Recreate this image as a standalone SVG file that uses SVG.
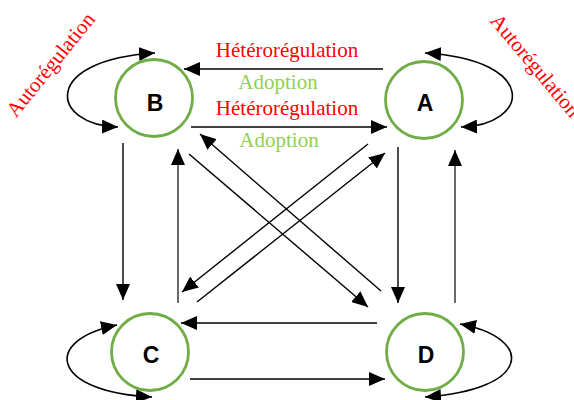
<svg xmlns="http://www.w3.org/2000/svg" width="574" height="400" viewBox="0 0 574 400">
<style>
.node{fill:#fff;stroke:#70AD47;stroke-width:2.8}
.lbl{font-family:"Liberation Sans",Arial,sans-serif;font-weight:bold;font-size:23px;text-anchor:middle;fill:#000}
.red{font-family:"Liberation Serif","Times New Roman",serif;font-size:21px;fill:#FF0000;text-anchor:middle}
.grn{font-family:"Liberation Serif","Times New Roman",serif;font-size:21px;fill:#92D050;text-anchor:middle}
.c{fill:none;stroke:#000;stroke-width:1.4;marker-end:url(#ah)}
.g{fill:none;stroke:#444;stroke-width:1.6;marker-end:url(#ah)}
.loop{fill:none;stroke:#000;stroke-width:1.6;marker-start:url(#ah);marker-end:url(#ah)}
</style>
<defs>
<marker id="ah" viewBox="0 0 16 14" markerWidth="16" markerHeight="14" refX="16" refY="7" markerUnits="userSpaceOnUse" orient="auto-start-reverse">
<path d="M0,0 L16,7 L0,14 z" fill="#000"/>
</marker>
</defs>
<rect width="574" height="400" fill="#fff"/>
<g id="connectors">
<path class="c" d="M383,69 L184,69"/>
<path class="c" d="M191,127 L387,127"/>
<path class="c" d="M123,143 L123,300"/>
<path class="g" d="M178,303 L178,149"/>
<path class="c" d="M398,147 L398,303"/>
<path class="g" d="M455,303 L455,150"/>
<path class="c" d="M189,154 L368,307"/>
<path class="c" d="M381,291 L200,134"/>
<path class="c" d="M368,144 L182,292"/>
<path class="c" d="M197,302 L385,153"/>
<path class="c" d="M377,323 L181,323"/>
<path class="c" d="M190,379 L385,379"/>
<path class="loop" d="M155,53 C40,60 50,125 118,127"/>
<path class="loop" d="M425,53 C540,60 530,125 461,127"/>
<path class="loop" d="M117,325 C42,340 50,392 152,397"/>
<path class="loop" d="M460,324 C535,338 532,390 425,397"/>
</g>
<g id="labels">
<text class="red" x="287" y="57">Hétérorégulation</text>
<text class="grn" x="278" y="89">Adoption</text>
<text class="red" x="287" y="115">Hétérorégulation</text>
<text class="grn" x="279" y="147">Adoption</text>
<text class="red" transform="translate(56,69) rotate(-51)">Autorégulation</text>
<text class="red" transform="translate(530,70) rotate(50)">Autorégulation</text>
</g>
<g id="B"><circle class="node" cx="154" cy="98" r="38.5"/><text class="lbl" x="155" y="111">B</text></g>
<g id="A"><circle class="node" cx="424" cy="100" r="38.5"/><text class="lbl" x="425" y="111">A</text></g>
<g id="C"><circle class="node" cx="150" cy="352" r="38.5"/><text class="lbl" x="151" y="363">C</text></g>
<g id="D"><circle class="node" cx="425" cy="352" r="38.5"/><text class="lbl" x="426" y="363">D</text></g>
</svg>
